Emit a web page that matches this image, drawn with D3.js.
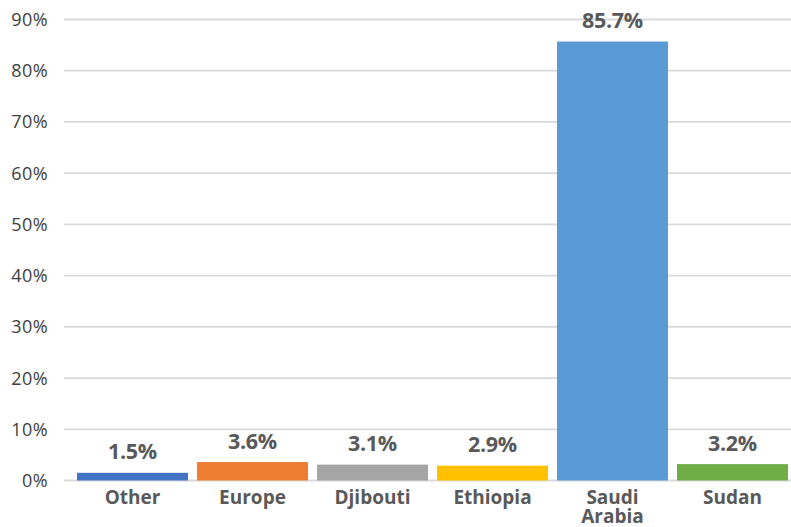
<!DOCTYPE html>
<html><head><meta charset="utf-8">
<script src="https://cdn.jsdelivr.net/npm/d3@7"></script>
<style>
html,body{margin:0;padding:0;background:#fff;}
</style></head>
<body>
<svg id="chart" width="791" height="527"></svg>
<script>
const categories = ["Other", "Europe", "Djibouti", "Ethiopia", "Saudi Arabia", "Sudan"];
const values = [1.5, 3.6, 3.1, 2.9, 85.7, 3.2];
const colors = ["#4472C4", "#ED7D31", "#A5A5A5", "#FFC000", "#5B9BD5", "#70AD47"];
const yTicks = [0, 10, 20, 30, 40, 50, 60, 70, 80, 90];

const svg = d3.select("#chart");
const x = d3.scaleBand().domain(categories).range([72.5, 792.5]).paddingInner(0.075).paddingOuter(0.0375);
const y = d3.scaleLinear().domain([0, 90]).range([480.5, 19.5]);
const font = "'Open Sans', sans-serif";

// gridlines
svg.append("g").selectAll("line").data(yTicks).join("line")
  .attr("x1", 64).attr("x2", 791)
  .attr("y1", d => y(d)).attr("y2", d => y(d))
  .attr("stroke", "#d9d9d9").attr("stroke-width", 1.8);

// y labels
svg.append("g").selectAll("text").data(yTicks).join("text")
  .attr("x", 48).attr("y", d => y(d) + 6.5)
  .attr("text-anchor", "end")
  .attr("font-family", font)
  .attr("font-size", 18).attr("letter-spacing", 0.4).attr("fill", "#404040")
  .text(d => d + "%");

// bars
svg.append("g").selectAll("rect").data(values).join("rect")
  .attr("x", (d, i) => x(categories[i]))
  .attr("width", x.bandwidth())
  .attr("y", d => y(d))
  .attr("height", d => y(0) - y(d))
  .attr("fill", (d, i) => colors[i]);

// value labels
svg.append("g").selectAll("text").data(values).join("text")
  .attr("x", (d, i) => x(categories[i]) + x.bandwidth() / 2)
  .attr("y", d => y(d) - 13.5)
  .attr("text-anchor", "middle")
  .attr("font-family", font)
  .attr("font-weight", "bold")
  .attr("font-size", 21.5).attr("letter-spacing", -0.3).attr("fill", "#595959")
  .text(d => d.toFixed(1) + "%");

// category labels
const cat = svg.append("g").selectAll("text").data(categories).join("text")
  .attr("x", d => x(d) + x.bandwidth() / 2)
  .attr("y", 504)
  .attr("text-anchor", "middle")
  .attr("font-family", font)
  .attr("font-weight", "bold")
  .attr("font-size", 19).attr("fill", "#595959");
cat.each(function(d) {
  const parts = d === "Saudi Arabia" ? ["Saudi", "Arabia"] : [d];
  const t = d3.select(this);
  parts.forEach((p, k) => {
    t.append("tspan").attr("x", x(d) + x.bandwidth() / 2).attr("dy", k === 0 ? 0 : 19).text(p);
  });
});
</script>
</body></html>
